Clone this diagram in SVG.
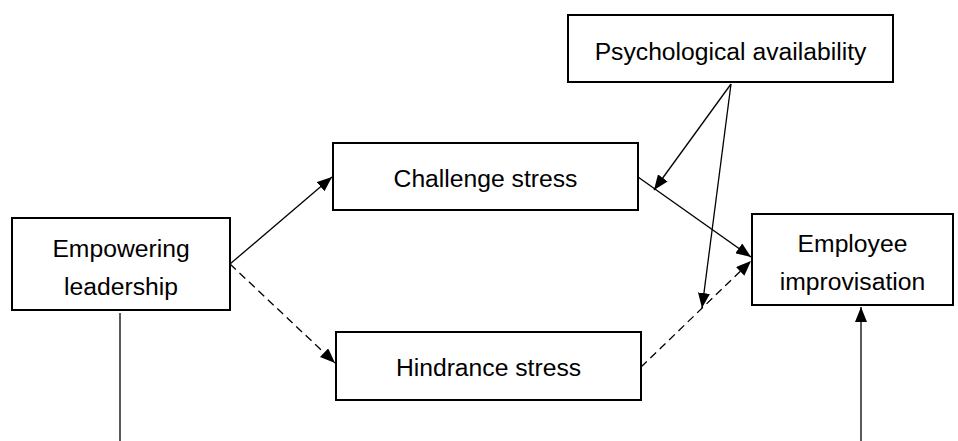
<svg xmlns="http://www.w3.org/2000/svg" width="958" height="441" viewBox="0 0 958 441">
<style>
.box{fill:#fff;stroke:#000;stroke-width:2}
.t{font-family:"Liberation Sans",Arial,sans-serif;font-size:24.7px;fill:#000;text-anchor:middle}
.c{stroke:#000;stroke-width:1.3;fill:none}
.d{stroke-dasharray:8,5}
</style>
<defs>
<marker id="ah" viewBox="0 0 15 12" refX="15" refY="6" markerWidth="15" markerHeight="12" markerUnits="userSpaceOnUse" orient="auto">
<path d="M0,0 L15,6 L0,12 Z" fill="#000"/>
</marker>
</defs>
<g id="psych">
<rect class="box" x="568" y="15" width="325" height="67"/>
<text class="t" x="730.5" y="60">Psychological availability</text>
</g>
<g id="challenge">
<rect class="box" x="333" y="143" width="305" height="67"/>
<text class="t" x="485.5" y="187">Challenge stress</text>
</g>
<g id="empowering">
<rect class="box" x="12" y="218" width="218" height="92"/>
<text class="t" x="121" y="257">Empowering</text>
<text class="t" x="121" y="295">leadership</text>
</g>
<g id="hindrance">
<rect class="box" x="336" y="332" width="305" height="68"/>
<text class="t" x="488.5" y="376">Hindrance stress</text>
</g>
<g id="employee">
<rect class="box" x="752" y="214" width="201" height="91"/>
<text class="t" x="852.5" y="252">Employee</text>
<text class="t" x="852.5" y="290">improvisation</text>
</g>
<g id="connectors">
<line class="c" x1="230" y1="264" x2="332" y2="177" marker-end="url(#ah)"/>
<line class="c d" x1="230" y1="264" x2="335" y2="363" marker-end="url(#ah)"/>
<line class="c" x1="638" y1="177" x2="751" y2="257" marker-end="url(#ah)"/>
<line class="c d" x1="641" y1="367" x2="751" y2="261" marker-end="url(#ah)"/>
<line class="c" x1="731" y1="84" x2="654" y2="190" marker-end="url(#ah)"/>
<line class="c" x1="731" y1="84" x2="702" y2="308" marker-end="url(#ah)"/>
<line class="c" x1="120" y1="313" x2="120" y2="441"/>
<line class="c" x1="861" y1="441" x2="861" y2="307" marker-end="url(#ah)"/>
</g>
</svg>
